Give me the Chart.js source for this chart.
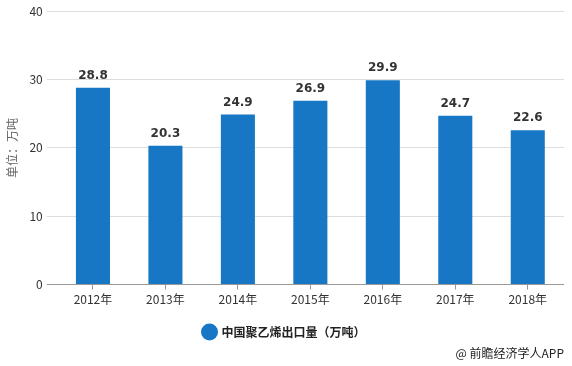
<!DOCTYPE html>
<html>
<head>
<meta charset="utf-8">
<script src="https://cdn.jsdelivr.net/npm/chart.js@4/dist/chart.umd.min.js"></script>
<style>
  html, body { margin: 0; padding: 0; background: #fff; }
  #wrap { position: relative; width: 572px; height: 366px; }
  #credit {
    position: absolute; right: 8px; top: 344px;
    font: 12px "Noto Sans CJK SC", sans-serif; color: #222;
  }
</style>
</head>
<body>
<div id="wrap">
  <canvas id="chart" width="572" height="366"></canvas>
  <div id="credit">@ 前瞻经济学人APP</div>
</div>
<script>
// ===== Data =====
const years = ['2012年', '2013年', '2014年', '2015年', '2016年', '2017年', '2018年'];
const exportVolume = [28.8, 20.3, 24.9, 26.9, 29.9, 24.7, 22.6];
const yTicks = [0, 10, 20, 30, 40];

const FONT = "'Noto Sans CJK SC', 'Noto Sans', sans-serif";
const BLUE = '#1777c5';

// Value labels above each bar
const valueLabels = {
    id: 'valueLabels',
    afterDatasetsDraw(chart) {
        const ctx = chart.ctx;
        const meta = chart.getDatasetMeta(0);
        ctx.save();
        ctx.font = "bold 12px 'DejaVu Sans', sans-serif";
        ctx.fillStyle = '#333';
        ctx.textAlign = 'center';
        ctx.textBaseline = 'bottom';
        meta.data.forEach((bar, i) => {
            ctx.fillText(exportVolume[i].toFixed(1), bar.x, bar.y - 6);
        });
        ctx.restore();
    }
};

new Chart(document.getElementById('chart').getContext('2d'), {
    type: 'bar',
    data: {
        labels: years,
        datasets: [{
            label: '中国聚乙烯出口量（万吨）',
            data: exportVolume,
            backgroundColor: BLUE,
            barPercentage: 0.94,
            categoryPercentage: 0.5
        }]
    },
    options: {
        responsive: false,
        animation: false,
        layout: { padding: { top: 6, right: 8, bottom: 18, left: 5 } },
        plugins: {
            tooltip: { enabled: false },
            legend: {
                position: 'bottom',
                labels: {
                    usePointStyle: true,
                    pointStyle: 'circle',
                    boxWidth: 12,
                    boxHeight: 12,
                    padding: 16,
                    color: '#222',
                    font: { family: FONT, size: 12, weight: 'bold' }
                }
            }
        },
        scales: {
            x: {
                grid: {
                    offset: false,
                    drawOnChartArea: false,
                    drawTicks: true,
                    tickLength: 5,
                    color: '#999'
                },
                border: { display: false },
                ticks: { color: '#333', font: { family: FONT, size: 12 }, padding: 3 }
            },
            y: {
                min: 0,
                max: 40,
                afterBuildTicks(axis) { axis.ticks = yTicks.map(v => ({ value: v })); },
                grid: {
                    color: ctx => ctx.tick && ctx.tick.value === 0 ? '#999' : '#ddd',
                    tickLength: 10
                },
                border: { display: false },
                ticks: { color: '#333', font: { family: FONT, size: 12 }, padding: 4 },
                title: {
                    display: true,
                    text: '单位：万吨',
                    color: '#666',
                    font: { family: FONT, size: 12 },
                    padding: { top: 0, bottom: 6 }
                }
            }
        }
    },
    plugins: [valueLabels]
});
</script>
</body>
</html>
